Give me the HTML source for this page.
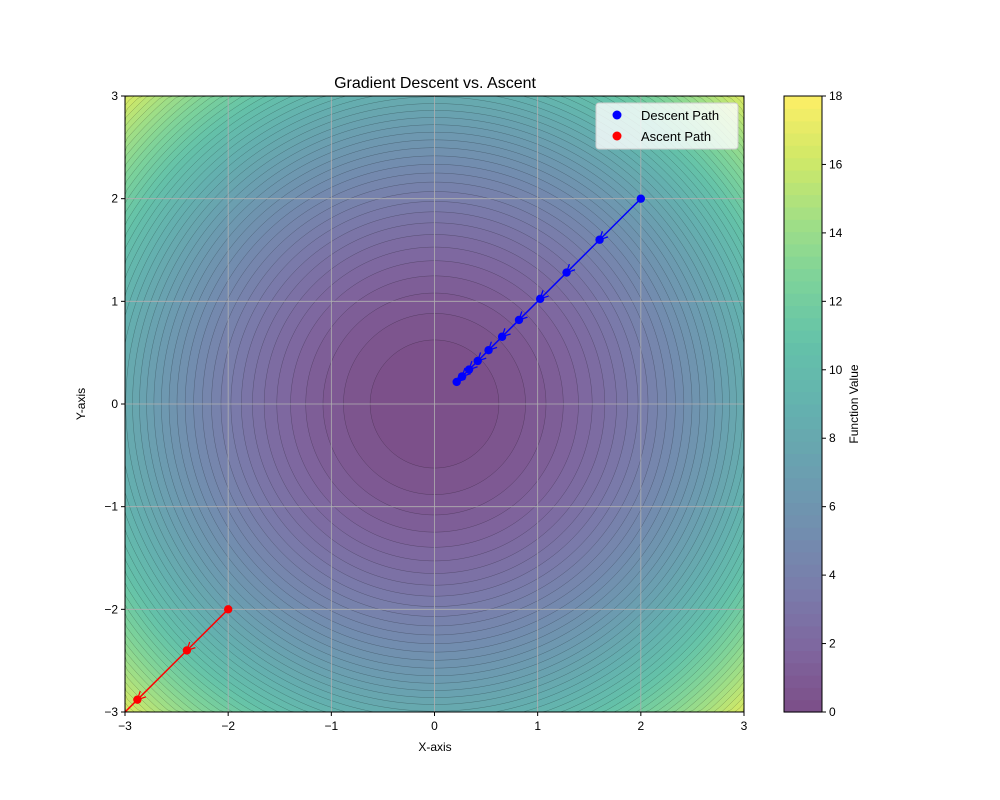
<!DOCTYPE html>
<html><head><meta charset="utf-8"><style>
html,body{margin:0;padding:0;width:1000px;height:800px;overflow:hidden;background:#fff;font-family:"Liberation Sans","DejaVu Sans",sans-serif}
svg{display:block;position:absolute;left:0;top:0}
svg text{font-family:"Liberation Sans","DejaVu Sans",sans-serif;fill:#000}
</style></head><body>
<svg id="c" width="1000" height="800" xmlns="http://www.w3.org/2000/svg">
<defs><clipPath id="clip"><rect x="125" y="96" width="619" height="616"/></clipPath>
<marker id="ab" markerWidth="10" markerHeight="10" refX="9" refY="5" orient="auto" markerUnits="userSpaceOnUse"><path d="M1,1 L9,5 L1,9" fill="none" stroke="blue" stroke-width="1.3"/></marker>
<marker id="ar" markerWidth="10" markerHeight="10" refX="9" refY="5" orient="auto" markerUnits="userSpaceOnUse"><path d="M1,1 L9,5 L1,9" fill="none" stroke="red" stroke-width="1.3"/></marker>
</defs>
<g id="plot" clip-path="url(#clip)"></g>
<g id="over"></g>
</svg>
<script>
const descentX=[2,1.6,1.28,1.024,0.819,0.655,0.524,0.419,0.335,0.268,0.215];
const descentY=[2,1.6,1.28,1.024,0.819,0.655,0.524,0.419,0.335,0.268,0.215];
const ascentX=[-2,-2.4,-2.88,-3.456];
const ascentY=[-2,-2.4,-2.88,-3.456];
const xTicks=[-3,-2,-1,0,1,2,3];
const yTicks=[-3,-2,-1,0,1,2,3];
const cbTicks=[0,2,4,6,8,10,12,14,16,18];
const L={x0:125,x1:744,y0:96,y1:712};
const sx=v=>L.x0+(v+3)/6*(L.x1-L.x0);
const sy=v=>L.y1-(v+3)/6*(L.y1-L.y0);
const NS="http://www.w3.org/2000/svg";
function el(t,a,p){const e=document.createElementNS(NS,t);for(const k in a)e.setAttribute(k,a[k]);p.appendChild(e);return e;}
const vir=[[68,1,84],[72,36,117],[65,68,135],[53,95,141],[42,120,142],[33,145,140],[34,168,132],[68,191,112],[122,209,81],[189,223,38],[253,231,37]];
function col(t){t=Math.max(0,Math.min(1,t));const f=t*10,i=Math.min(9,Math.floor(f)),r=f-i;
const c=vir[i].map((v,k)=>v+(vir[i+1][k]-v)*r).map(v=>Math.round(v*0.7+255*0.3));return`rgb(${c})`;}
const plot=document.getElementById('plot'),over=document.getElementById('over');
const N=50,step=18/N,ppu=(L.x1-L.x0)/6,ppv=(L.y1-L.y0)/6;
el('rect',{x:L.x0,y:L.y0,width:619,height:616,fill:col(1)},plot);
const clampX=v=>Math.max(L.x0,Math.min(L.x1,v)),clampY=v=>Math.max(L.y0,Math.min(L.y1,v));
for(let i=N-1;i>=0;i--){const lv=(i+1)*step,r=Math.sqrt(lv)*1.04;
const pts=[];for(let k=0;k<360;k++){const a=k*Math.PI/180;
pts.push(clampX(sx(0)+r*ppu*Math.cos(a)).toFixed(2)+','+clampY(sy(0)+r*ppv*Math.sin(a)).toFixed(2));}
const e=el('polygon',{points:pts.join(' '),fill:col((i+0.5)/N),stroke:'rgba(0,0,0,0.3)','stroke-width':0.5},plot);

}
xTicks.forEach(v=>{const g=el('line',{x1:sx(v),x2:sx(v),y1:L.y0,y2:L.y1,stroke:'#b0b0b0','stroke-width':0.8},plot);});
yTicks.forEach(v=>{const g=el('line',{y1:sy(v),y2:sy(v),x1:L.x0,x2:L.x1,stroke:'#b0b0b0','stroke-width':0.8},plot);});
function path(X,Y,c,m,nm){
for(let i=0;i<X.length-1;i++){const a=el('line',{x1:sx(X[i]),y1:sy(Y[i]),x2:sx(X[i+1]),y2:sy(Y[i+1]),stroke:c,'stroke-width':1.5,'marker-end':`url(#${m})`},plot);
}
for(let i=0;i<X.length;i++){const p=el('circle',{cx:sx(X[i]),cy:sy(Y[i]),r:4.2,fill:c},plot);
}}
path(descentX,descentY,'blue','ab','descent');
path(ascentX,ascentY,'red','ar','ascent');
el('rect',{x:L.x0,y:L.y0,width:619,height:616,fill:'none',stroke:'#000','stroke-width':1},over);
xTicks.forEach(v=>{el('line',{x1:sx(v),x2:sx(v),y1:L.y1,y2:L.y1+4,stroke:'#000'},over);
const t=el('text',{x:sx(v),y:L.y1+18,'text-anchor':'middle','font-size':12},over);t.textContent=v<0?'−'+(-v):v;
});
yTicks.forEach(v=>{el('line',{x1:L.x0-4,x2:L.x0,y1:sy(v),y2:sy(v),stroke:'#000'},over);
const t=el('text',{x:L.x0-7,y:sy(v)+4,'text-anchor':'end','font-size':12},over);t.textContent=v<0?'−'+(-v):v;
});
const CB={x:784,w:38,y0:96,y1:712};const cy=v=>CB.y1-v/18*(CB.y1-CB.y0);
for(let i=0;i<N;i++){const r=el('rect',{x:CB.x,y:cy((i+1)*step),width:CB.w,height:cy(i*step)-cy((i+1)*step)+0.6,fill:col((i+0.5)/N)},over);
}
el('rect',{x:CB.x,y:CB.y0,width:CB.w,height:CB.y1-CB.y0,fill:'none',stroke:'#000'},over);
cbTicks.forEach(v=>{el('line',{x1:CB.x+CB.w,x2:CB.x+CB.w+4,y1:cy(v),y2:cy(v),stroke:'#000'},over);
const t=el('text',{x:CB.x+CB.w+7,y:cy(v)+4,'font-size':12},over);t.textContent=v;
});
</script>
<svg width="1000" height="800">
<text x="435" y="88" text-anchor="middle" font-size="16">Gradient Descent vs. Ascent</text>
<text x="435" y="751" text-anchor="middle" font-size="12">X-axis</text>
<text x="85" y="404" text-anchor="middle" font-size="12" transform="rotate(-90 85 404)">Y-axis</text>
<text x="858" y="404" text-anchor="middle" font-size="12" transform="rotate(-90 858 404)">Function Value</text>
<g>
<rect x="596" y="103" width="142" height="46" rx="3" fill="rgba(255,255,255,0.8)" stroke="#ccc"/>
<circle cx="617" cy="115" r="4.5" fill="blue"/>
<text x="641" y="120" font-size="13">Descent Path</text>
<circle cx="617" cy="136" r="4.5" fill="red"/>
<text x="641" y="141" font-size="13">Ascent Path</text>
</g>
</svg>
</body></html>
